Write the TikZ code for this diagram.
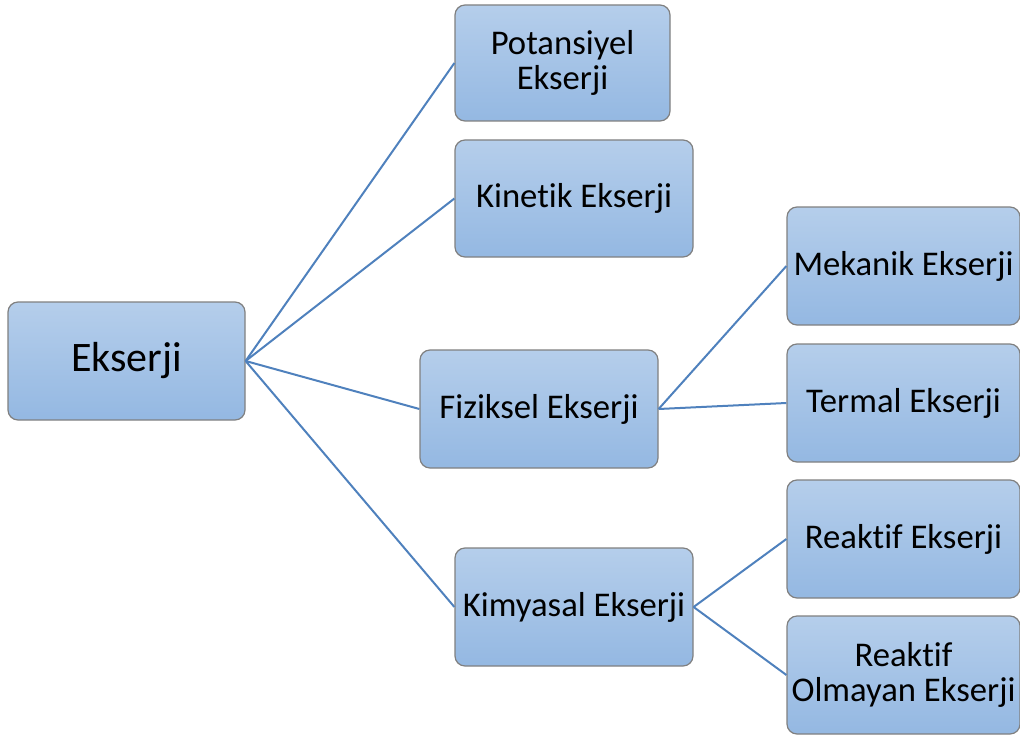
\documentclass[tikz,border=0pt]{standalone}
\usepackage{fontspec}
\setmainfont[Ligatures=NoCommon]{Carlito}
\definecolor{boxtop}{HTML}{B5CEEB}
\definecolor{boxbot}{HTML}{94B8E2}
\definecolor{boxline}{HTML}{808080}
\definecolor{linkblue}{HTML}{4F81BD}
\begin{document}
\begin{tikzpicture}[x=0.75pt, y=-0.75pt,
    box/.style={draw=boxline, line width=0.9pt, rounded corners=7.5pt, top color=boxtop, bottom color=boxbot,
        minimum width=178.5pt, minimum height=88.5pt, align=center, inner sep=0pt,
        font=\fontsize{26}{26}\selectfont},
    link/.style={draw=linkblue, line width=1.5pt}]
                \useasboundingbox (0,0) rectangle (1020,738);
                \node[box, minimum width=177.75pt, font=\fontsize{31.5}{36}\selectfont] (root) at (126.5,361) {Ekserji};
                \node[box, minimum width=161.25pt, minimum height=87pt] (pot) at (562.5,63) {Potansiyel\\Ekserji};
                \node[box, minimum height=87.75pt] (kin) at (574,198.5) {Kinetik Ekserji};
                \node[box] (fiz) at (539,409) {Fiziksel Ekserji};
                \node[box] (kim) at (574,607) {Kimyasal Ekserji};
                \node[box, minimum width=174.75pt] (mek) at (903.5,266) {Mekanik Ekserji};
                \node[box, minimum width=174.75pt] (ter) at (903.5,403) {Termal Ekserji};
                \node[box, minimum width=174.75pt] (rea) at (903.5,539) {Reaktif Ekserji};
                \node[box, minimum width=174.75pt] (reo) at (903.5,675) {Reaktif\\Olmayan Ekserji};

                \draw[link] (root.east) -- (pot.west);
                \draw[link] (root.east) -- (kin.west);
                \draw[link] (root.east) -- (fiz.west);
                \draw[link] (root.east) -- (kim.west);
                \draw[link] (fiz.east) -- (mek.west);
                \draw[link] (fiz.east) -- (ter.west);
                \draw[link] (kim.east) -- (rea.west);
                \draw[link] (kim.east) -- (reo.west);
            \end{tikzpicture}
\end{document}
